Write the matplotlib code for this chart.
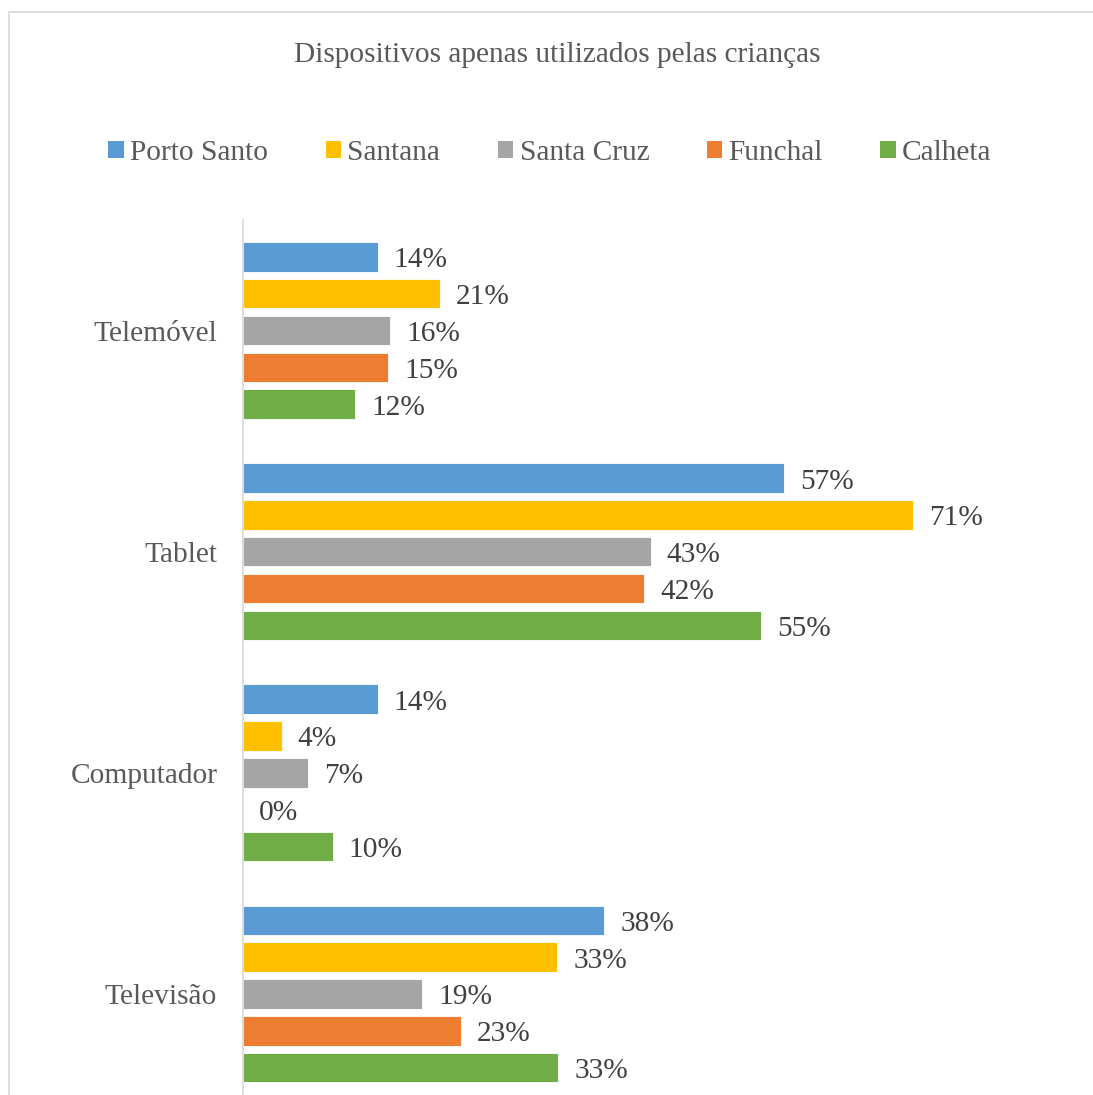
"""Horizontal grouped bar chart: devices used only by children, by municipality."""

import matplotlib

matplotlib.use("Agg")
import matplotlib.pyplot as plt
from matplotlib.patches import Patch, Rectangle

plt.rcParams["font.family"] = ["Liberation Serif", "DejaVu Serif"]

TITLE = "Dispositivos apenas utilizados pelas crianças"
categories = ["Telemóvel", "Tablet", "Computador", "Televisão"]
series = ["Porto Santo", "Santana", "Santa Cruz", "Funchal", "Calheta"]
colors = ["#5B9BD5", "#FFC000", "#A5A5A5", "#ED7D31", "#70AD47"]

# one list per municipality, same order as categories
porto_santo = [0.143, 0.573, 0.143, 0.383]
santana = [0.209, 0.710, 0.041, 0.333]
santa_cruz = [0.156, 0.432, 0.069, 0.190]
funchal = [0.154, 0.425, 0.0, 0.231]
calheta = [0.119, 0.549, 0.095, 0.334]
values = [porto_santo, santana, santa_cruz, funchal, calheta]

TEXT = "#595959"
LABEL = "#404040"
FS = 21.2

fig = plt.figure(figsize=(10.93, 10.95), dpi=100)
ax = fig.add_axes([243 / 1093, -0.0087, 755 / 1093, 0.8078])

step = 36.8 / 221
height = 29.5 / 221
for i, (name, vals, col) in enumerate(zip(series, values, colors)):
    ys = [k + (i - 2) * step for k in range(len(categories))]
    bars = ax.barh(ys, vals, height=height, color=col, edgecolor="white",
                   linewidth=0.6, label=name)
    for bar, v in zip(bars, vals):
        ax.annotate(f"{v:.0%}", (bar.get_width(), bar.get_y() + bar.get_height() / 2),
                    xytext=(11.5, -2.5), textcoords="offset points",
                    va="center", ha="left", fontsize=FS, color=LABEL)

ax.set_xlim(0, 0.8)
ax.set_ylim(len(categories) - 0.5, -0.5)
ax.set_yticks(range(len(categories)))
ax.set_yticklabels(categories, fontsize=FS, color=TEXT)
ax.tick_params(axis="y", length=0, pad=18.5)
ax.set_xticks([])
for side in ["top", "right", "bottom"]:
    ax.spines[side].set_visible(False)
ax.spines["left"].set_color("#D9D9D9")
ax.spines["left"].set_linewidth(1.2)

fig.text(557 / 1093, 1 - 55 / 1095, TITLE, ha="center", va="center",
         fontsize=FS, color=TEXT)

handles = [Patch(facecolor=c, edgecolor="none") for c in colors]
fig.legend(handles, series, loc="center", bbox_to_anchor=(550 / 1093, 1 - 153 / 1095),
           ncol=5, frameon=False, fontsize=FS, labelcolor=TEXT,
           handlelength=0.52, handleheight=0.52, handletextpad=0.22,
           columnspacing=1.95)

fig.add_artist(Rectangle((8.5 / 1093, -0.1), 1.2, 1.1 - 12.5 / 1095,
                         transform=fig.transFigure, fill=False,
                         edgecolor="#D9D9D9", linewidth=1.2))

fig.savefig("out.png", dpi=100)
